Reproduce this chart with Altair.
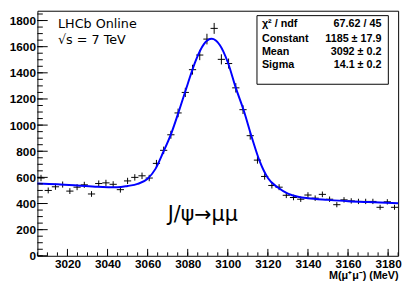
import altair as alt
import pandas as pd

# ---------------- data ----------------
mass = [3006.8, 3010.4, 3014.0, 3017.6, 3021.2, 3024.8, 3028.4, 3032.0, 3035.6, 3039.2,
        3042.8, 3046.4, 3050.0, 3053.6, 3057.2, 3060.8, 3064.4, 3068.0, 3071.6, 3075.2,
        3078.8, 3082.4, 3086.0, 3089.6, 3093.2, 3096.8, 3100.4, 3104.0, 3107.6, 3111.2,
        3114.8, 3118.4, 3122.0, 3125.6, 3129.2, 3132.8, 3136.4, 3140.0, 3143.6, 3147.2,
        3150.8, 3154.4, 3158.0, 3161.6, 3165.2, 3168.8, 3172.4, 3176.0, 3179.6, 3183.2]
counts = [595, 500, 528, 545, 495, 525, 543, 473, 553, 558,
          547, 506, 573, 600, 612, 595, 707, 807, 926, 1093,
          1250, 1424, 1536, 1658, 1740, 1503, 1471, 1285, 1118, 919,
          732, 607, 538, 525, 463, 446, 433, 465, 441, 470,
          433, 391, 428, 420, 416, 416, 416, 371, 413, 371]
half_bin = 1.8

fit_mass = [3005, 3015, 3025, 3035, 3045, 3050, 3055, 3060, 3064, 3068,
            3072, 3076, 3080, 3084, 3088, 3092, 3096, 3100, 3104, 3108,
            3112, 3116, 3120, 3125, 3130, 3135, 3140, 3150, 3160, 3170, 3185]
fit_value = [553, 547, 538, 528, 524, 534, 550, 590, 667, 800,
             945, 1125, 1315, 1494, 1618, 1660, 1613, 1481, 1285, 1110,
             905, 720, 595, 522, 476, 452, 440, 428, 418, 411, 402]

x_major = [3020, 3040, 3060, 3080, 3100, 3120, 3140, 3160, 3180]
x_minor = list(range(3005, 3186, 5))
y_major = [0, 200, 400, 600, 800, 1000, 1200, 1400, 1600, 1800]
y_minor = list(range(0, 1876, 50))

stat_names = ["χ² / ndf", "Constant", "Mean", "Sigma"]
stat_values = ["67.62 / 45", "1185 ± 17.9", "3092 ± 0.2", "14.1 ± 0.2"]

# ---------------- chart ----------------
W, H = 368, 250
xs = alt.Scale(domain=[3005, 3185], nice=False, zero=False)
ys = alt.Scale(domain=[0, 1875], nice=False, zero=False)
NUM_FONT = "Liberation Sans"
TXT_FONT = "DejaVu Sans"

df = pd.DataFrame({"mass": mass, "counts": counts})

xaxis = alt.Axis(values=x_major, format="d", ticks=False, grid=False, domain=False,
                 labelFont=NUM_FONT, labelFontWeight="bold", labelFontSize=12,
                 labelColor="black", labelPadding=3, labelFlush=False, labelOverlap=False,
                 title="M(μ⁺μ⁻) (MeV)", titleFont=NUM_FONT, titleFontWeight="bold",
                 titleFontSize=11, titleColor="black", titleAlign="right",
                 titleBaseline="alphabetic", titleX=W, titleY=23, titleAngle=0)
yaxis = alt.Axis(values=y_major, format="d", ticks=False, grid=False, domain=False,
                 labelFont=NUM_FONT, labelFontWeight="bold", labelFontSize=12,
                 labelColor="black", labelPadding=2, labelFlush=False, labelOverlap=False,
                 title=None)

def X(field):
    return alt.X(field, scale=xs, axis=xaxis)

def Y(field):
    return alt.Y(field, scale=ys, axis=yaxis)

base = alt.Chart(df).transform_calculate(
    lo="datum.counts - sqrt(datum.counts)",
    hi="datum.counts + sqrt(datum.counts)",
    xl=f"datum.mass - {half_bin}",
    xr=f"datum.mass + {half_bin}",
)

vbars = base.mark_rule(color="black", strokeWidth=1).encode(
    x=X("mass:Q"), y=Y("lo:Q"), y2="hi:Q")
hbars = base.mark_rule(color="black", strokeWidth=1).encode(
    x=X("xl:Q"), x2="xr:Q", y=Y("counts:Q"))

fit = alt.Chart(pd.DataFrame({"m": fit_mass, "v": fit_value})).mark_line(
    color="#0000ff", strokeWidth=2, interpolate="monotone"
).encode(x=X("m:Q"), y=Y("v:Q"))

def xticks(vals, length):
    return alt.Chart(pd.DataFrame({"t": vals})).mark_rule(color="black", strokeWidth=1).encode(
        x=X("t:Q"), y=alt.value(H), y2=alt.value(H - length))

def yticks(vals, length):
    return alt.Chart(pd.DataFrame({"t": vals})).mark_rule(color="black", strokeWidth=1).encode(
        y=Y("t:Q"), x=alt.value(0), x2=alt.value(length))

one = pd.DataFrame({"a": [0]})

def label(text, x, y, font, size, weight="normal", align="left"):
    return alt.Chart(one).mark_text(
        text=text, font=font, fontSize=size, fontWeight=weight, align=align,
        baseline="middle", color="black"
    ).encode(x=alt.value(x), y=alt.value(y))

box = alt.Chart(one).mark_rect(fill="white", stroke="black", strokeWidth=1).encode(
    x=alt.value(224), x2=alt.value(358), y=alt.value(5), y2=alt.value(75))

layers = [vbars, hbars, fit, xticks(x_minor, 3.5), xticks(x_major, 7),
          yticks(y_minor, 5.5), yticks(y_major, 10.5), box]
row_y = [14, 28.5, 42, 55.5]
for name, val, yy in zip(stat_names, stat_values, row_y):
    layers.append(label(name, 229, yy, NUM_FONT, 11, "bold", "left"))
    layers.append(label(val, 351, yy, NUM_FONT, 11, "bold", "right"))

layers.append(label("LHCb Online", 21, 14, TXT_FONT, 13))
layers.append(label("√s = 7 TeV", 21, 30, TXT_FONT, 13))
layers.append(label("J/ψ→μμ", 133, 208, TXT_FONT, 21))

chart = alt.layer(*layers).properties(
    width=W, height=H,
    autosize=alt.AutoSizeParams(type="none"),
    padding={"left": 30, "top": 0, "right": 7, "bottom": 27},
    background="white",
).configure_view(stroke="black", strokeWidth=1)

chart.save("out.html", embed_options={"renderer": "svg", "actions": False})
